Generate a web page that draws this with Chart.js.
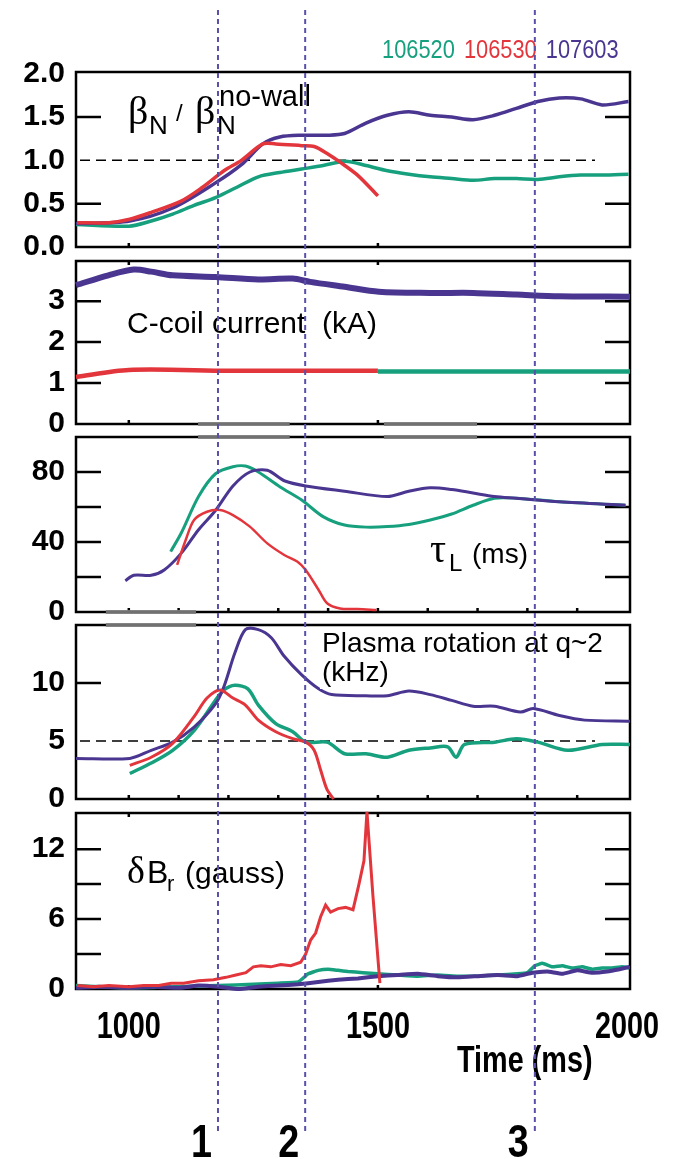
<!DOCTYPE html>
<html>
<head>
<meta charset="utf-8">
<script src="https://cdn.jsdelivr.net/npm/chart.js@4.4.0/dist/chart.umd.min.js"></script>
<style>
html, body { margin: 0; padding: 0; background: #fff; }
#wrap { position: relative; width: 677px; height: 1159px; overflow: hidden; }
#wrap canvas { position: absolute; left: 0; }
</style>
</head>
<body>
<div id="wrap"></div>
<script>
// shots and time markers
var shots = ['106520', '106530', '107603'];
var markerTimes = [1179, 1354, 1815];
var markerLabels = ['1', '2', '3'];
var timeTicks = [1000, 1500, 2000];
var timeMin = 894, timeMax = 2006;

// beta_N / beta_N no-wall
var beta106520 = [[894,0.26],[1000,0.24],[1045,0.30],[1088,0.38],[1131,0.48],[1174,0.57],[1217,0.69],[1260,0.81],[1303,0.86],[1347,0.90],[1390,0.94],[1435,0.99],[1476,0.94],[1519,0.88],[1562,0.84],[1605,0.81],[1648,0.79],[1691,0.77],[1734,0.79],[1778,0.79],[1821,0.78],[1864,0.81],[1907,0.83],[1950,0.83],[2003,0.84]];
var beta106530 = [[896,0.28],[960,0.28],[1002,0.32],[1045,0.40],[1105,0.53],[1148,0.69],[1191,0.88],[1226,1.00],[1269,1.19],[1295,1.19],[1347,1.17],[1372,1.16],[1398,1.08],[1424,0.98],[1459,0.83],[1500,0.59]];
var beta107603 = [[894,0.27],[1002,0.30],[1088,0.45],[1174,0.74],[1226,0.95],[1269,1.19],[1303,1.27],[1347,1.29],[1398,1.29],[1433,1.31],[1476,1.43],[1519,1.52],[1562,1.56],[1605,1.52],[1648,1.50],[1691,1.47],[1734,1.52],[1778,1.60],[1821,1.68],[1864,1.72],[1907,1.71],[1950,1.64],[2003,1.68]];

// C-coil current (kA)
var coil106520 = [[1500,1.28],[1650,1.28],[1800,1.28],[2006,1.28]];
var coil106530 = [[894,1.15],[1000,1.32],[1200,1.30],[1400,1.30],[1500,1.30]];
var coil107603 = [[894,3.39],[959,3.63],[1010,3.77],[1045,3.72],[1088,3.63],[1174,3.59],[1260,3.53],[1329,3.55],[1364,3.47],[1433,3.35],[1502,3.23],[1605,3.20],[1691,3.20],[1778,3.16],[1864,3.12],[2006,3.11]];

// tau_L (ms)
var tau106520 = [[1084,34.5],[1105,45],[1140,66],[1174,79],[1209,83],[1234,83.4],[1260,80],[1303,71.6],[1347,64],[1390,54.5],[1433,49.7],[1476,48.5],[1519,48.8],[1562,50],[1605,52.6],[1648,56],[1691,61],[1734,65],[1778,65],[1864,63],[1997,61]];
var tau106530 = [[1097,26.9],[1114,41],[1131,52.6],[1157,57.3],[1183,58.3],[1209,55.4],[1243,48.8],[1278,39.2],[1312,32.6],[1338,28.8],[1355,24],[1381,12.6],[1398,5],[1424,2],[1459,1.7],[1497,1.1]];
var tau107603 = [[993,17.9],[1010,21],[1045,21],[1071,24],[1105,33.5],[1140,47],[1174,58],[1209,72],[1243,80],[1278,81],[1312,75],[1355,72],[1433,69],[1519,66],[1562,69],[1605,71],[1648,70],[1691,68],[1734,66],[1778,65],[1864,63],[1997,61]];

// plasma rotation at q~2 (kHz)
var rot106520 = [[1002,2.2],[1045,3.1],[1088,4.2],[1131,5.9],[1174,8.5],[1191,9.4],[1213,9.8],[1239,9.5],[1260,8.1],[1295,6.5],[1329,5.8],[1355,4.9],[1398,4.9],[1433,3.9],[1476,3.9],[1519,3.6],[1562,4.2],[1605,4.4],[1640,4.5],[1657,3.6],[1674,4.7],[1734,4.9],[1778,5.2],[1821,4.9],[1881,4.2],[1950,4.7],[2006,4.7]];
var rot106530 = [[1002,2.9],[1045,3.6],[1088,4.8],[1131,7.1],[1157,8.7],[1183,9.4],[1209,8.7],[1234,8.1],[1260,6.8],[1295,5.8],[1329,5.2],[1355,4.9],[1372,4.2],[1385,2.5],[1398,0.8],[1411,0]];
var rot107603 = [[894,3.5],[1002,3.5],[1045,4.2],[1088,4.9],[1131,6.2],[1174,8.2],[1191,9.7],[1213,12.6],[1234,14.6],[1260,14.6],[1286,13.9],[1312,12.3],[1347,10.7],[1381,9.5],[1407,9.0],[1476,8.9],[1519,8.9],[1562,9.3],[1605,9.0],[1648,8.5],[1691,8.0],[1734,8.0],[1786,7.5],[1812,7.8],[1864,7.2],[1915,6.8],[2006,6.7]];

// delta B_r (gauss)
var br106520 = [[894,0.3],[1000,0.1],[1100,0.2],[1180,0.3],[1250,0.4],[1300,0.5],[1340,0.6],[1360,1.3],[1380,1.6],[1400,1.7],[1420,1.6],[1440,1.5],[1470,1.4],[1500,1.3],[1540,1.2],[1580,1.1],[1620,1.2],[1660,1.1],[1700,1.1],[1740,1.2],[1780,1.3],[1800,1.4],[1815,2.0],[1830,2.2],[1850,1.9],[1870,2.0],[1890,1.8],[1910,1.9],[1930,1.7],[1950,1.8],[1970,1.8],[1990,1.9],[2005,1.8]];
var br106530 = [[896,0.3],[930,0.2],[960,0.3],[1000,0.2],[1030,0.3],[1060,0.3],[1085,0.5],[1110,0.5],[1140,0.7],[1170,0.8],[1195,1.0],[1215,1.2],[1235,1.4],[1250,1.9],[1265,2.0],[1285,1.9],[1305,2.1],[1325,2.0],[1345,2.3],[1355,3.0],[1365,4.2],[1375,4.8],[1385,6.2],[1395,7.2],[1405,6.6],[1420,6.9],[1435,7.0],[1450,6.8],[1462,9.0],[1472,11.0],[1478,15.2],[1490,8.0],[1504,0.5]];
var br107603 = [[894,0.1],[940,0.2],[1000,0.1],[1050,0.2],[1100,0.1],[1140,0.3],[1180,0.2],[1220,0.0],[1260,0.2],[1300,0.3],[1340,0.4],[1380,0.6],[1420,0.8],[1460,0.9],[1500,1.1],[1540,1.2],[1580,1.3],[1620,1.1],[1660,1.0],[1700,1.1],[1740,1.2],[1780,1.1],[1810,1.4],[1840,1.5],[1870,1.3],[1900,1.6],[1930,1.4],[1960,1.5],[1985,1.7],[2005,1.9]];

// grey strips left over in the figure, [start, end] in ms
var greyStripsMid = [[1139,1323],[1512,1699]];
var greyStripsLow = [[954,1135]];

var GREEN = '#17a07e', RED = '#e2363c', PURPLE = '#4a3690', MARK = '#5a50aa';
var SANS = "'Liberation Sans', Arial, sans-serif";
var SERIF = "'Liberation Serif', 'DejaVu Serif', serif";

var wrap = document.getElementById('wrap');

function pts(arr) {
  return arr.map(function(p) { return {x: p[0], y: p[1]}; });
}
function line(arr, color, width, tension) {
  return {data: pts(arr), borderColor: color, borderWidth: width, pointRadius: 0,
          tension: tension === undefined ? 0.3 : tension, fill: false, clip: 6};
}
function strips(list, y) {
  return list.map(function(s) {
    return {data: [{x: s[0], y: y}, {x: s[1], y: y}], borderColor: 'rgba(125,125,125,0.9)',
            borderWidth: 4, pointRadius: 0, tension: 0, clip: false};
  });
}
// condensed text, the figure uses a narrow face
function narrowText(ctx, s, x, y, align, sx) {
  ctx.save();
  ctx.translate(x, y);
  ctx.scale(sx, 1);
  ctx.textAlign = align;
  ctx.fillText(s, 0, 0);
  ctx.restore();
}

// box, inner ticks, reference line and in-panel texts
var panelDeco = {
  id: 'panelDeco',
  beforeDatasetsDraw: function(chart, args, o) {
    var a = chart.chartArea, ctx = chart.ctx, xs = chart.scales.x, ys = chart.scales.y;
    ctx.save();
    ctx.strokeStyle = '#000';
    ctx.lineWidth = 2.5;
    ctx.strokeRect(a.left, a.top, a.right - a.left, a.bottom - a.top);
    ctx.beginPath();
    o.yMarks.forEach(function(v) {
      var py = ys.getPixelForValue(v);
      ctx.moveTo(a.left, py); ctx.lineTo(a.left + 25, py);
      ctx.moveTo(a.right, py); ctx.lineTo(a.right - 25, py);
    });
    o.xBottom.forEach(function(v) {
      var px = xs.getPixelForValue(v);
      ctx.moveTo(px, a.bottom); ctx.lineTo(px, a.bottom - 4);
    });
    o.xTop.forEach(function(v) {
      var px = xs.getPixelForValue(v);
      ctx.moveTo(px, a.top); ctx.lineTo(px, a.top + 4);
    });
    ctx.stroke();
    if (o.ref !== null) {
      var ry = ys.getPixelForValue(o.ref);
      ctx.lineWidth = 1.5;
      ctx.setLineDash([10, 6]);
      ctx.beginPath();
      ctx.moveTo(a.left + 4, ry); ctx.lineTo(a.right - 35, ry);
      ctx.stroke();
    }
    ctx.restore();
  },
  afterDatasetsDraw: function(chart, args, o) {
    var ctx = chart.ctx;
    ctx.save();
    ctx.translate(0, -o.canvasTop);
    ctx.textBaseline = 'alphabetic';
    ctx.textAlign = 'left';
    o.texts.forEach(function(t) {
      ctx.font = t.f;
      if (t.bg) {
        var w = ctx.measureText(t.t).width;
        ctx.fillStyle = '#fff';
        ctx.fillRect(t.x - 2, t.y - 24, w + 4, 32);
      }
      ctx.fillStyle = '#000';
      ctx.fillText(t.t, t.x, t.y);
    });
    ctx.restore();
  }
};

var panels = [
  {top: 72, bottom: 247, max: 2.02, labels: [0, 0.5, 1, 1.5, 2], digits: 1,
   yMarks: [0.5, 1.5], xTop: [], xBottom: [1000, 1500], ref: 1.0,
   datasets: [line(beta106530, RED, 3.5), line(beta107603, PURPLE, 3.5), line(beta106520, GREEN, 3.5)],
   texts: [
     {t: 'β', x: 128, y: 124, f: '40px ' + SERIF},
     {t: 'N', x: 149, y: 134, f: '26px ' + SANS},
     {t: '/', x: 176, y: 121, f: '24px ' + SANS},
     {t: 'β', x: 195, y: 124, f: '40px ' + SERIF},
     {t: 'N', x: 217, y: 134, f: '26px ' + SANS},
     {t: 'no-wall', x: 219, y: 106, f: '29px ' + SANS}
   ]},
  {top: 261, bottom: 424, max: 3.98, labels: [0, 1, 2, 3], digits: 0,
   yMarks: [1, 2, 3], xTop: [1000, 1500], xBottom: [1000, 1500], ref: null,
   datasets: [line(coil107603, PURPLE, 6), line(coil106530, RED, 4.5), line(coil106520, GREEN, 4.5)]
     .concat(strips(greyStripsMid, 0)),
   texts: [{t: 'C-coil current  (kA)', x: 127, y: 333, f: '30px ' + SANS}]},
  {top: 437, bottom: 612, max: 100, labels: [0, 40, 80], digits: 0,
   yMarks: [20, 40, 60, 80], xTop: [], xBottom: [1000, 1100, 1200, 1300, 1400, 1500, 1600, 1700, 1800, 1900], ref: null,
   datasets: [line(tau106530, RED, 2.5), line(tau107603, PURPLE, 3), line(tau106520, GREEN, 3)]
     .concat(strips(greyStripsMid, 100)).concat(strips(greyStripsLow, 0)),
   texts: [
     {t: 'τ', x: 430, y: 562, f: '40px ' + SERIF},
     {t: 'L', x: 449, y: 571, f: '24px ' + SANS},
     {t: '(ms)', x: 472, y: 563, f: '28px ' + SANS}
   ]},
  {top: 625, bottom: 799, max: 15, labels: [0, 5, 10], digits: 0,
   yMarks: [10], xTop: [], xBottom: [1000, 1100, 1200, 1300, 1400, 1500, 1600, 1700, 1800, 1900], ref: 5,
   datasets: [line(rot106530, RED, 3), line(rot107603, PURPLE, 3), line(rot106520, GREEN, 3.5)]
     .concat(strips(greyStripsLow, 15)),
   texts: [
     {t: 'Plasma rotation at q~2', x: 322, y: 652, f: '28px ' + SANS, bg: true},
     {t: '(kHz)', x: 322, y: 681, f: '28px ' + SANS, bg: true}
   ]},
  {top: 813, bottom: 989, max: 15.1, labels: [0, 6, 12], digits: 0,
   yMarks: [3, 6, 9, 12], xTop: [1000, 1500], xBottom: [1000, 1500], ref: null,
   datasets: [line(br106530, RED, 3, 0), line(br107603, PURPLE, 4, 0.1), line(br106520, GREEN, 3.5, 0.1)],
   texts: [
     {t: 'δ', x: 127, y: 883, f: '38px ' + SERIF},
     {t: 'B', x: 147, y: 883, f: '32px ' + SANS},
     {t: 'r', x: 167, y: 891, f: '22px ' + SANS},
     {t: '(gauss)', x: 185, y: 883, f: '30px ' + SANS}
   ]}
];

var PAD = 22;

panels.forEach(function(P) {
  var canvas = document.createElement('canvas');
  var canvasTop = P.top - PAD;
  canvas.width = 677;
  canvas.height = P.bottom - P.top + 2 * PAD;
  canvas.style.top = canvasTop + 'px';
  wrap.appendChild(canvas);

  new Chart(canvas, {
    type: 'line',
    data: {datasets: P.datasets},
    options: {
      responsive: false,
      animation: false,
      devicePixelRatio: 1,
      layout: {padding: {left: 0, right: 47, top: PAD, bottom: PAD}},
      plugins: {
        legend: {display: false},
        tooltip: {enabled: false},
        panelDeco: {yMarks: P.yMarks, xTop: P.xTop, xBottom: P.xBottom, ref: P.ref,
                    texts: P.texts, canvasTop: canvasTop}
      },
      scales: {
        x: {type: 'linear', min: timeMin, max: timeMax, display: false},
        y: {
          min: 0, max: P.max,
          afterFit: function(s) { s.width = 76; s.paddingTop = 0; s.paddingBottom = 0; },
          afterBuildTicks: function(s) { s.ticks = P.labels.map(function(v) { return {value: v}; }); },
          ticks: {autoSkip: false, padding: 11, color: '#000',
                  font: {family: SANS, size: 30, weight: 'bold'},
                  callback: function(v) { return v.toFixed(P.digits); }},
          grid: {display: false, drawTicks: false},
          border: {display: false}
        }
      }
    },
    plugins: [panelDeco]
  });
});

// overlay: time markers across all panels, time labels, shot numbers
var overlayText = {
  id: 'overlayText',
  beforeDatasetsDraw: function(chart) {
    var ctx = chart.ctx, xs = chart.scales.x;
    ctx.save();
    ctx.textBaseline = 'alphabetic';
    ctx.font = '26px ' + SANS;
    var colors = [GREEN, RED, PURPLE];
    var x = 382;
    shots.forEach(function(s, i) {
      ctx.fillStyle = colors[i];
      narrowText(ctx, s, x, 58, 'left', 0.84);
      x += ctx.measureText(s).width * 0.84 + 9;
    });
    ctx.fillStyle = '#000';
    ctx.font = 'bold 36px ' + SANS;
    timeTicks.forEach(function(t) {
      narrowText(ctx, String(t), xs.getPixelForValue(t), 1038, 'center', 0.8);
    });
    narrowText(ctx, 'Time (ms)', 457, 1072, 'left', 0.8);
    ctx.font = 'bold 46px ' + SANS;
    markerTimes.forEach(function(t, i) {
      narrowText(ctx, markerLabels[i], xs.getPixelForValue(t) - 6, 1157, 'right', 0.82);
    });
    ctx.restore();
  }
};

var ov = document.createElement('canvas');
ov.width = 677;
ov.height = 1159;
ov.style.top = '0px';
wrap.appendChild(ov);

new Chart(ov, {
  type: 'line',
  data: {
    datasets: markerTimes.map(function(t) {
      return {data: [{x: t, y: 10}, {x: t, y: 1133}], borderColor: MARK, borderWidth: 2,
              borderDash: [5, 4], pointRadius: 0, clip: false};
    })
  },
  options: {
    responsive: false,
    animation: false,
    devicePixelRatio: 1,
    layout: {padding: {left: 76, right: 47, top: 0, bottom: 0}},
    plugins: {legend: {display: false}, tooltip: {enabled: false}},
    scales: {
      x: {type: 'linear', min: timeMin, max: timeMax, display: false},
      y: {min: 0, max: 1159, reverse: true, display: false}
    }
  },
  plugins: [overlayText]
});
</script>
</body>
</html>
